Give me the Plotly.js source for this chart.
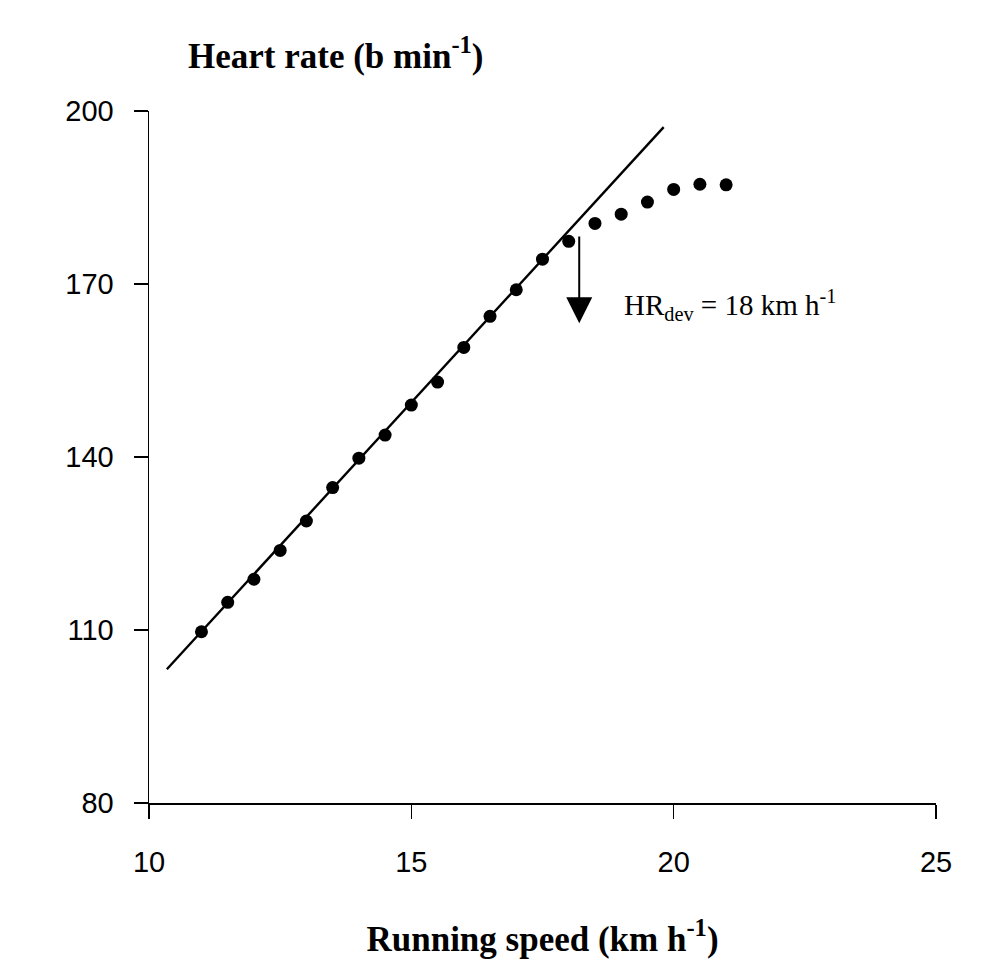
<!DOCTYPE html>
<html>
<head>
<meta charset="utf-8">
<script src="https://cdn.plot.ly/plotly-3.0.1.min.js"></script>
<style>html,body{margin:0;padding:0;background:#fff;}#chart{width:1003px;height:970px;}</style>
</head>
<body>
<div id="chart"></div>
<script>
// Running speed (km/h) and heart rate (b/min) measurements
const speed = [11, 11.5, 12, 12.5, 13, 13.5, 14, 14.5, 15, 15.5, 16, 16.5, 17, 17.5, 18, 18.5, 19, 19.5, 20, 20.5, 21];
const heartRate = [109.7, 114.8, 118.8, 123.8, 128.9, 134.7, 139.8, 143.8, 149.0, 153.0, 159.0, 164.4, 169.0, 174.3, 177.4, 180.5, 182.1, 184.2, 186.4, 187.3, 187.2];
// Linear regression line endpoints
const fitSpeed = [10.34, 19.81];
const fitHR = [103.2, 197.2];
// Deflection point arrow
const arrowSpeed = 18.2;
const arrowTopHR = 178.5;
const arrowTipHR = 163.2;
const xTicks = [10, 15, 20, 25];
const yTicks = [80, 110, 140, 170, 200];

const serif = 'Liberation Serif, Times New Roman, serif';
const sans = 'Liberation Sans, Arial, sans-serif';

const traces = [
  {x: fitSpeed, y: fitHR, mode: 'lines', line: {color: '#000', width: 2.4}, hoverinfo: 'skip'},
  {x: speed, y: heartRate, mode: 'markers', marker: {color: '#000', size: 13}}
];

const layout = {
  width: 1003, height: 970,
  margin: {l: 149, r: 67, t: 111, b: 167},
  paper_bgcolor: '#fff', plot_bgcolor: '#fff',
  showlegend: false,
  xaxis: {
    range: [10, 25], tickvals: xTicks, ticktext: xTicks.map(String),
    showgrid: false, zeroline: false, showline: true, linecolor: '#000', linewidth: 1.5,
    ticks: 'outside', ticklen: 14, tickwidth: 1.5, tickcolor: '#000',
    tickfont: {family: sans, size: 29, color: '#000'}, ticklabelstandoff: 19,
    title: {text: '<b>Running speed (km h<sup>-1</sup>)</b>', font: {family: serif, size: 35, color: '#000'}, standoff: 49}
  },
  yaxis: {
    range: [80, 200], tickvals: yTicks, ticktext: yTicks.map(String),
    showgrid: false, zeroline: false, showline: true, linecolor: '#000', linewidth: 1.5,
    ticks: 'outside', ticklen: 14, tickwidth: 1.5, tickcolor: '#000',
    tickfont: {family: sans, size: 29, color: '#000'}, ticklabelstandoff: 14
  },
  annotations: [
    {xref: 'paper', yref: 'paper', x: 0.047, y: 1.0, yshift: 58, xanchor: 'left', yanchor: 'middle',
     text: '<b>Heart rate (b min<sup>-1</sup>)</b>', showarrow: false,
     font: {family: serif, size: 35, color: '#000'}},
    {x: arrowSpeed, y: arrowTipHR, ax: arrowSpeed, ay: arrowTopHR, axref: 'x', ayref: 'y',
     xref: 'x', yref: 'y', showarrow: true, arrowhead: 2, arrowsize: 2.6, arrowwidth: 2, arrowcolor: '#000', text: ''},
    {x: 19.01, y: 166.3, xref: 'x', yref: 'y', xanchor: 'left', yanchor: 'middle', showarrow: false,
     text: 'HR<sub>dev</sub> = 18 km h<sup>-1</sup>', font: {family: serif, size: 29, color: '#000'}}
  ]
};

Plotly.newPlot('chart', traces, layout, {displayModeBar: false, staticPlot: true});
</script>
</body>
</html>
